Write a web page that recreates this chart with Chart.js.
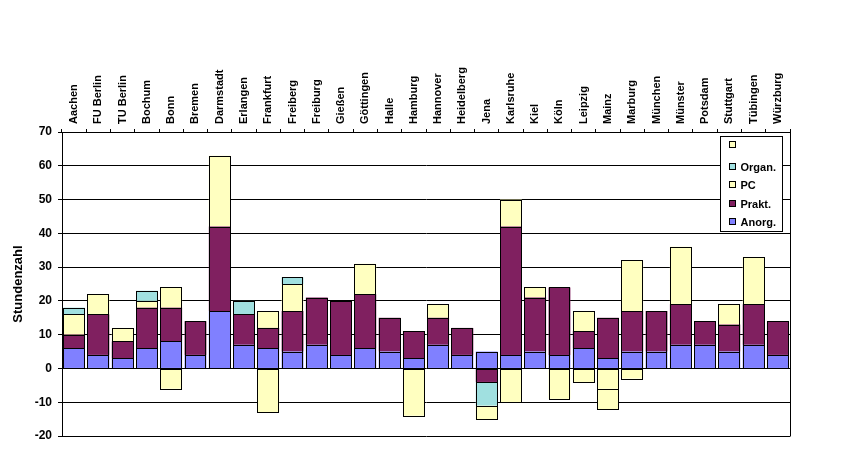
<!DOCTYPE html>
<html><head><meta charset="utf-8">
<script src="https://cdn.jsdelivr.net/npm/chart.js@4"></script>
<style>html,body{margin:0;padding:0;background:#fff}#wrap{width:864px;height:462px;position:relative}</style>
</head><body><div id="wrap"><canvas id="c" width="864" height="462"></canvas></div>
<script>
const categories = ['Aachen','FU Berlin','TU Berlin','Bochum','Bonn','Bremen','Darmstadt','Erlangen','Frankfurt','Freiberg','Freiburg','Gießen','Göttingen','Halle','Hamburg','Hannover','Heidelberg','Jena','Karlsruhe','Kiel','Köln','Leipzig','Mainz','Marburg','München','Münster','Potsdam','Stuttgart','Tübingen','Würzburg'];
const anorg  = [6,4,3,6,8,4,17,7,6,5,7,4,6,5,3,7,4,5,4,5,4,6,3,5,5,7,7,5,7,4];
const prakt  = [4,12,5,12,10,10,25,9,6,12,14,16,16,10,8,8,8,-4,38,16,20,5,12,12,12,12,7,8,12,10];
const pc     = [6,6,4,2,6,null,21,null,5,8,null,null,9,null,null,4,null,null,8,3,null,6,-6,15,null,17,null,6,14,null];
const organ  = [2,null,null,3,null,null,null,4,null,2,null,null,null,null,null,null,null,-7,null,null,null,null,null,null,null,null,null,null,null,null];
const extra  = [null,null,null,null,-6,null,null,null,-13,null,null,null,null,null,-14,null,null,-4,-10,null,-9,-4,-6,-3,null,null,null,null,null,null];
const seriesNames = ['Anorg.','Prakt.','PC','Organ.',''];
const yMin = -20, yMax = 70, yStep = 10;
const yTitle = 'Stundenzahl';

const FONT = "'Liberation Sans', Arial, sans-serif";
const colors = ['#8080FF','#802060','#FFFFC0','#A0E0E0','#FFFFC0'];
const seriesData = [anorg, prakt, pc, organ, extra];

const outlinePlugin = {
  id: 'barOutline',
  afterDatasetsDraw(chart) {
    const ctx = chart.ctx;
    ctx.save();
    ctx.strokeStyle = '#000';
    ctx.lineWidth = 1;
    chart.data.datasets.forEach((ds, di) => {
      const meta = chart.getDatasetMeta(di);
      meta.data.forEach((el, i) => {
        if (ds.data[i] == null) return;
        const p = el.getProps(['x', 'y', 'base', 'width'], true);
        const l = Math.round(p.x - p.width / 2) + 0.5;
        const r = Math.round(p.x + p.width / 2) - 0.5;
        const t = Math.round(Math.min(p.y, p.base)) + 0.5;
        const b = Math.round(Math.max(p.y, p.base)) + 0.5;
        ctx.strokeRect(l, t, r - l, b - t);
      });
    });
    ctx.restore();
  }
};

const boxPlugin = {
  id: 'boxLegend',
  afterDraw(chart) {
    const ctx = chart.ctx, a = chart.chartArea;
    ctx.save();
    ctx.strokeStyle = '#000';
    ctx.lineWidth = 1;
    ctx.beginPath();
    ctx.moveTo(Math.round(a.right) + 0.5, Math.round(a.top) - 3);
    ctx.lineTo(Math.round(a.right) + 0.5, Math.round(a.bottom) + 0.5);
    ctx.stroke();
    const bx = Math.round(a.right) - 69.5, by = Math.round(a.top) + 4.5, bw = 62, bh = 95;
    ctx.fillStyle = '#fff';
    ctx.fillRect(bx, by, bw, bh);
    ctx.strokeRect(bx, by, bw, bh);
    const rows = [8.5, 30, 48, 67, 85];
    const ds = chart.data.datasets.slice().reverse();
    ctx.font = 'bold 11px ' + FONT;
    ctx.textBaseline = 'middle';
    ds.forEach((d, i) => {
      const cy = Math.round(by + rows[i]);
      ctx.fillStyle = d.backgroundColor;
      ctx.fillRect(bx + 9, cy - 3.5, 6, 6);
      ctx.strokeRect(bx + 9, cy - 3.5, 6, 6);
      ctx.fillStyle = '#000';
      ctx.fillText(d.label, bx + 20, cy + 0.5);
    });
    ctx.restore();
  }
};

new Chart(document.getElementById('c'), {
  type: 'bar',
  data: {
    labels: categories,
    datasets: seriesData.map((arr, i) => ({
      label: seriesNames[i],
      data: arr,
      backgroundColor: colors[i],
      borderWidth: 0,
      barPercentage: 0.9,
      categoryPercentage: 1.0,
      stack: 's'
    }))
  },
  options: {
    responsive: false,
    animation: false,
    devicePixelRatio: 1,
    layout: { padding: { left: 0, right: 74, top: 0, bottom: 26 } },
    plugins: { legend: { display: false }, tooltip: { enabled: false } },
    scales: {
      x: {
        position: 'top',
        stacked: true,
        offset: true,
        grid: { display: true, offset: true, drawOnChartArea: false, drawTicks: true, tickLength: 3, color: '#000', lineWidth: 1 },
        border: { display: true, color: '#000', width: 1 },
        ticks: { autoSkip: false, minRotation: 90, maxRotation: 90, padding: 5, labelOffset: 13.2, color: '#000', font: { family: FONT, size: 11, weight: 'bold' } },
        afterFit(s) { s.height = 132; }
      },
      y: {
        stacked: true,
        min: yMin, max: yMax,
        ticks: { stepSize: yStep, padding: 6, color: '#000', font: { family: FONT, size: 12, weight: 'bold' } },
        grid: { color: '#000', lineWidth: 1, tickLength: 4 },
        border: { display: true, color: '#000', width: 1 },
        title: { display: true, text: yTitle, color: '#000', padding: { top: 11, bottom: 0 }, font: { family: FONT, size: 13, weight: 'bold' } },
        afterFit(s) { s.width = 62; }
      }
    }
  },
  plugins: [outlinePlugin, boxPlugin]
});
</script>
</body></html>
